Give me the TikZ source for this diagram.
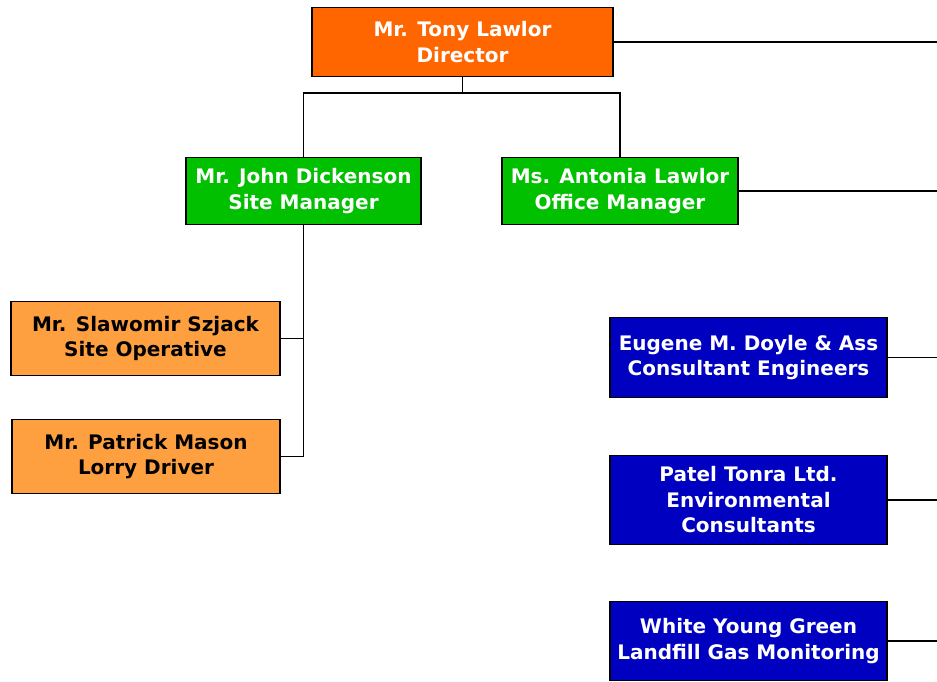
\documentclass[tikz,border=0pt]{standalone}
\usepackage{fontspec}
\setmainfont{DejaVu Sans}
\usetikzlibrary{positioning}

\definecolor{director}{HTML}{FF6600}
\definecolor{manager}{HTML}{00C000}
\definecolor{staff}{HTML}{FFA040}
\definecolor{external}{HTML}{0000C0}

\begin{document}
\begin{tikzpicture}[
    x = 1pt, y = -1pt, % pixel grid, y pointing down
    line width = 1.3pt,
    font = \bfseries\fontsize{20}{25.5}\selectfont
    ]

    \tikzset{every node/.style={
    draw = black,
    align = center,
    inner sep = 0pt
    }}
    \tikzset{boss/.style={fill=director,text=white}}
    \tikzset{mgr/.style={fill=manager,text=white}}
    \tikzset{worker/.style={fill=staff,text=black}}
    \tikzset{firm/.style={fill=external,text=white,minimum width=277pt}}

    \useasboundingbox[fill=white] (0,0) rectangle (937,681);

    \node[boss,minimum width=301pt,minimum height=69pt] (dir) at (462.5,42) {Mr. Tony Lawlor\\Director};
    \node[mgr,minimum width=235pt,minimum height=67pt] (site) at (303.5,191) {Mr. John Dickenson\\Site Manager};
    \node[mgr,minimum width=236pt,minimum height=67pt] (office) at (620,191) {Ms. Antonia Lawlor\\Office Manager};
    \node[worker,minimum width=269pt,minimum height=74pt] (oper) at (145.5,338.5) {Mr. Slawomir Szjack\\Site Operative};
    \node[worker,minimum width=268pt,minimum height=74pt] (lorry) at (146,456.5) {Mr. Patrick Mason\\Lorry Driver};
    \node[firm,minimum height=80pt] (eng) at (748.5,357.5) {Eugene M. Doyle \& Ass\\Consultant Engineers};
    \node[firm,minimum height=89pt] (env) at (748.5,500) {Patel Tonra Ltd.\\Environmental\\Consultants};
    \node[firm,minimum height=79pt] (gas) at (748.5,641) {White Young Green\\Landfill Gas Monitoring};

    \coordinate (fork) at (462.5,93);
    \coordinate (edge) at (937,0);

    \draw (dir.south) -- (fork);
    \draw (site.north) |- (fork) -| (office.north);
    \draw (site.south) |- (lorry.east);
    \draw (oper.east) -- (oper.east -| site.south);

    % lines running off the page
    \draw (dir.east) -- (dir.east -| edge);
    \draw (office.east) -- (office.east -| edge);
    \draw (eng.east) -- (eng.east -| edge);
    \draw (env.east) -- (env.east -| edge);
    \draw (gas.east) -- (gas.east -| edge);
\end{tikzpicture}
\end{document}
